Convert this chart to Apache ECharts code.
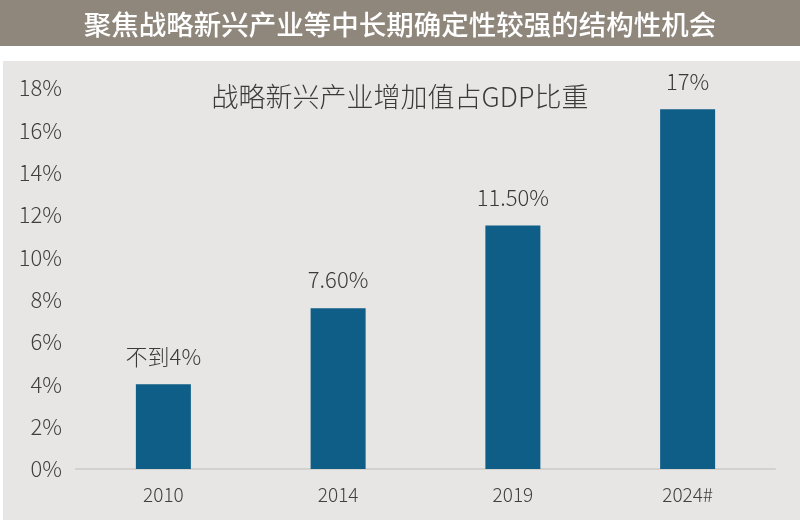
<!DOCTYPE html>
<html>
<head>
<meta charset="utf-8">
<script src="https://cdn.jsdelivr.net/npm/echarts@6/dist/echarts.min.js"></script>
<style>
html,body{margin:0;padding:0;background:#ffffff;}
#chart{width:800px;height:520px;}
</style>
</head>
<body>
<div id="chart"></div>
<script>
const headerText = '聚焦战略新兴产业等中长期确定性较强的结构性机会';
const chartTitle = '战略新兴产业增加值占GDP比重';
const categories = ['2010', '2014', '2019', '2024#'];
const values = [4, 7.6, 11.5, 17];
const barLabels = ['不到4%', '7.60%', '11.50%', '17%'];
const yTicks = [0, 2, 4, 6, 8, 10, 12, 14, 16, 18];

const FONT = '"Noto Sans CJK SC", "Noto Sans", sans-serif';
const chart = echarts.init(document.getElementById('chart'));
chart.setOption({
  backgroundColor: '#ffffff',
  animation: false,
  graphic: [
    { type: 'rect', z: -10, shape: { x: 0, y: 0, width: 800, height: 46 }, style: { fill: '#8f877c' } },
    { type: 'rect', z: -10, shape: { x: 3, y: 61, width: 797, height: 459 }, style: { fill: '#e7e6e4' } }
  ],
  title: [
    {
      text: headerText, left: 'center', top: 6,
      textStyle: { color: '#ffffff', fontFamily: FONT, fontSize: 27.5, fontWeight: 500 }
    },
    {
      text: chartTitle, left: 'center', top: 78,
      textStyle: { color: '#3a3a3a', fontFamily: FONT, fontSize: 27, fontWeight: 300 }
    }
  ],
  grid: { left: 76, right: 25, top: 88, bottom: 51, containLabel: false },
  xAxis: {
    type: 'category',
    data: categories,
    axisLine: { show: true, lineStyle: { color: '#d3d1ce', width: 2 } },
    axisTick: { show: false },
    axisLabel: { color: '#3f3f3f', fontFamily: FONT, fontSize: 19, fontWeight: 300, margin: 16 }
  },
  yAxis: {
    type: 'value',
    min: yTicks[0], max: yTicks[yTicks.length - 1], interval: 2,
    axisLine: { show: false },
    axisTick: { show: false },
    splitLine: { show: false },
    axisLabel: { color: '#3f3f3f', fontFamily: FONT, fontSize: 22, fontWeight: 300, margin: 14, formatter: v => v + '%' }
  },
  series: [{
    type: 'bar',
    data: values,
    barWidth: 55,
    itemStyle: { color: '#0e5e87' },
    label: {
      show: true, position: 'top', distance: 17,
      color: '#3a3a3a', fontFamily: FONT, fontSize: 22, fontWeight: 300,
      formatter: p => barLabels[p.dataIndex]
    }
  }]
});
</script>
</body>
</html>
